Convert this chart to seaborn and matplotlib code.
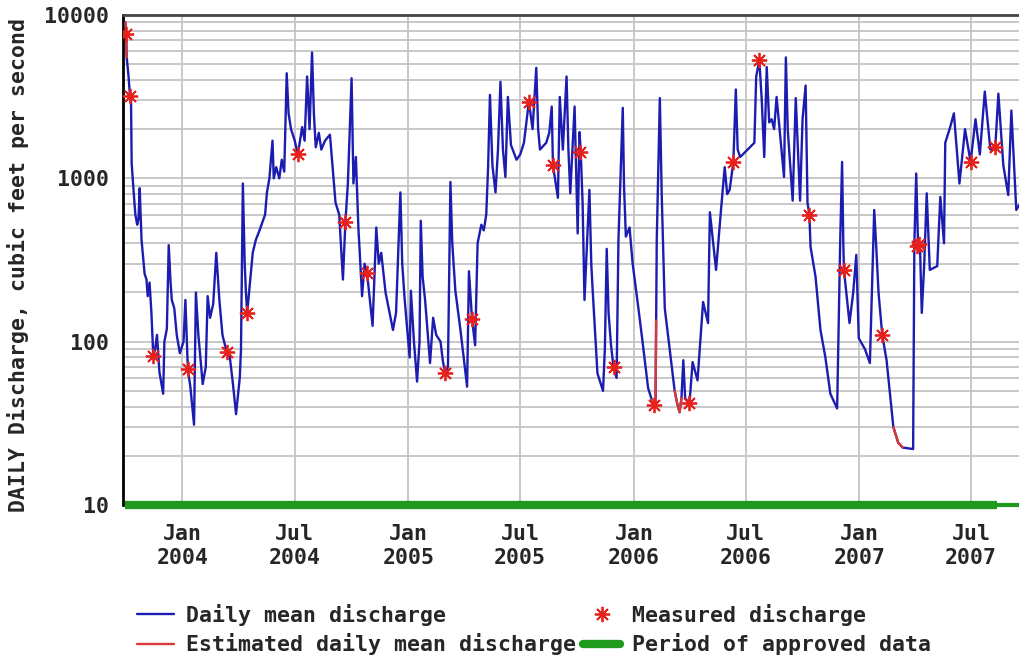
"""
Daily discharge hydrograph, Oct 2003 - Sep 2007 (USGS style)
"""

import numpy as np
import pandas as pd
import matplotlib
matplotlib.use("Agg")
import matplotlib.pyplot as plt
import matplotlib.dates as mdates
from matplotlib.lines import Line2D
from matplotlib.ticker import LogLocator, FixedLocator, FixedFormatter, NullFormatter
import seaborn as sns

# daily mean discharge (cfs) at turning points
flow_dates = [
    "2003-10-01", "2003-10-02", "2003-10-03", "2003-10-06", "2003-10-08", "2003-10-10", "2003-10-11",
    "2003-10-14", "2003-10-17", "2003-10-20", "2003-10-22", "2003-10-24", "2003-10-27", "2003-11-01",
    "2003-11-04", "2003-11-06", "2003-11-09", "2003-11-12", "2003-11-15", "2003-11-18", "2003-11-21",
    "2003-11-25", "2003-12-01", "2003-12-03", "2003-12-07", "2003-12-10", "2003-12-13", "2003-12-15",
    "2003-12-19", "2003-12-23", "2003-12-28", "2004-01-03", "2004-01-06", "2004-01-10", "2004-01-14",
    "2004-01-20", "2004-01-23", "2004-01-27", "2004-02-03", "2004-02-08", "2004-02-11", "2004-02-15",
    "2004-02-20", "2004-02-25", "2004-03-01", "2004-03-06", "2004-03-13", "2004-03-18", "2004-03-23",
    "2004-03-28", "2004-04-03", "2004-04-05", "2004-04-08", "2004-04-11", "2004-04-13", "2004-04-15",
    "2004-04-18", "2004-04-24", "2004-04-29", "2004-05-05", "2004-05-09", "2004-05-14", "2004-05-17",
    "2004-05-21", "2004-05-26", "2004-05-28", "2004-06-01", "2004-06-06", "2004-06-10", "2004-06-14",
    "2004-06-18", "2004-06-21", "2004-06-25", "2004-07-01", "2004-07-06", "2004-07-13", "2004-07-17",
    "2004-07-21", "2004-07-25", "2004-07-29", "2004-08-01", "2004-08-04", "2004-08-09", "2004-08-13",
    "2004-08-19", "2004-08-27", "2004-08-31", "2004-09-05", "2004-09-11", "2004-09-17", "2004-09-21",
    "2004-09-25", "2004-10-01", "2004-10-04", "2004-10-08", "2004-10-12", "2004-10-18", "2004-10-22",
    "2004-10-26", "2004-11-04", "2004-11-10", "2004-11-14", "2004-11-18", "2004-11-25", "2004-12-07",
    "2004-12-12", "2004-12-19", "2004-12-22", "2004-12-26", "2004-12-30", "2005-01-03", "2005-01-05",
    "2005-01-10", "2005-01-15", "2005-01-19", "2005-01-21", "2005-01-24", "2005-01-28", "2005-02-05",
    "2005-02-10", "2005-02-15", "2005-02-22", "2005-02-26", "2005-03-02", "2005-03-06", "2005-03-10",
    "2005-03-13", "2005-03-18", "2005-03-26", "2005-04-06", "2005-04-09", "2005-04-14", "2005-04-19",
    "2005-04-23", "2005-04-29", "2005-05-03", "2005-05-07", "2005-05-10", "2005-05-13", "2005-05-17",
    "2005-05-22", "2005-05-26", "2005-05-30", "2005-06-03", "2005-06-07", "2005-06-11", "2005-06-16",
    "2005-06-25", "2005-07-01", "2005-07-07", "2005-07-15", "2005-07-21", "2005-07-27", "2005-07-30",
    "2005-08-02", "2005-08-12", "2005-08-17", "2005-08-21", "2005-08-23", "2005-08-31", "2005-09-03",
    "2005-09-08", "2005-09-14", "2005-09-17", "2005-09-20", "2005-09-27", "2005-10-02", "2005-10-05",
    "2005-10-07", "2005-10-10", "2005-10-13", "2005-10-21", "2005-10-24", "2005-10-26", "2005-11-03",
    "2005-11-12", "2005-11-15", "2005-11-18", "2005-11-21", "2005-11-25", "2005-11-29", "2005-12-04",
    "2005-12-07", "2005-12-14", "2005-12-16", "2005-12-19", "2005-12-25", "2005-12-30", "2006-01-07",
    "2006-01-15", "2006-01-24", "2006-01-30", "2006-02-03", "2006-02-05", "2006-02-06", "2006-02-07",
    "2006-02-12", "2006-02-15", "2006-02-20", "2006-02-28", "2006-03-08", "2006-03-12", "2006-03-16",
    "2006-03-19", "2006-03-22", "2006-03-25", "2006-04-01", "2006-04-06", "2006-04-14", "2006-04-23",
    "2006-05-01", "2006-05-04", "2006-05-08", "2006-05-14", "2006-05-22", "2006-05-28", "2006-06-01",
    "2006-06-05", "2006-06-11", "2006-06-15", "2006-06-18", "2006-06-22", "2006-07-04", "2006-07-15",
    "2006-07-18", "2006-07-23", "2006-07-27", "2006-07-31", "2006-08-04", "2006-08-08", "2006-08-12",
    "2006-08-16", "2006-08-20", "2006-08-26", "2006-09-01", "2006-09-04", "2006-09-07", "2006-09-15",
    "2006-09-20", "2006-09-27", "2006-10-01", "2006-10-06", "2006-10-09", "2006-10-12", "2006-10-14",
    "2006-10-22", "2006-10-30", "2006-11-07", "2006-11-15", "2006-11-26", "2006-12-01", "2006-12-04",
    "2006-12-06", "2006-12-07", "2006-12-16", "2006-12-22", "2006-12-27", "2006-12-31", "2007-01-10",
    "2007-01-18", "2007-01-25", "2007-01-28", "2007-02-01", "2007-02-07", "2007-02-14", "2007-02-25",
    "2007-03-05", "2007-03-12", "2007-03-29", "2007-03-31", "2007-04-03", "2007-04-06", "2007-04-09",
    "2007-04-12", "2007-04-16", "2007-04-20", "2007-04-25", "2007-05-07", "2007-05-12", "2007-05-18",
    "2007-05-20", "2007-05-28", "2007-06-03", "2007-06-12", "2007-06-21", "2007-06-30", "2007-07-08",
    "2007-07-15", "2007-07-23", "2007-08-01", "2007-08-09", "2007-08-14", "2007-08-22", "2007-08-30",
    "2007-09-04", "2007-09-12", "2007-09-18",
]
flow_cfs = [
    9000, 7700, 5500, 4200, 3300, 3000, 1240,
    850, 600, 520, 560, 870, 420, 260,
    240, 190, 230, 150, 82, 90, 110,
    65, 48, 100, 120, 390, 230, 180,
    160, 110, 85, 100, 180, 68, 53,
    31, 200, 110, 55, 70, 190, 140,
    170, 350, 180, 110, 86, 80, 55,
    36, 60, 90, 930, 300, 200, 150,
    200, 350, 420, 480, 530, 600, 820,
    1000, 1700, 1000, 1170, 1000, 1300, 1100,
    4400, 2500, 2000, 1700, 1400, 2060, 1700,
    4200, 2000, 5900, 2500, 1550, 1900, 1500,
    1700, 1850, 1200, 710, 600, 240, 540,
    930, 4100, 930, 1350, 500, 190, 300,
    265, 125, 500, 300, 350, 200, 118,
    150, 820, 300, 180, 120, 80, 205,
    100, 57, 100, 550, 250, 180, 74,
    140, 110, 100, 75, 64, 70, 950,
    400, 205, 120, 53, 270, 137, 95,
    400, 520, 480, 600, 1170, 3240, 1200,
    820, 1500, 3900, 1500, 1020, 3150, 1600,
    1300, 1400, 1650, 2950, 2000, 4750, 2000,
    1500, 1650, 1900, 2750, 1200, 760, 3150,
    1500, 4200, 1500, 810, 2750, 460, 1920,
    1450, 700, 180, 850, 300, 215, 64,
    50, 90, 370, 150, 95, 70, 60,
    420, 2700, 900, 440, 500, 300, 175,
    100, 52, 44, 40, 40, 135, 420,
    3100, 800, 160, 90, 50, 42, 37,
    45, 77, 45, 42, 75, 58, 175,
    130, 620, 450, 275, 640, 1170, 800,
    850, 1260, 3500, 1500, 1350, 1500, 1650,
    4200, 5300, 3000, 1350, 4800, 2200, 2300,
    2000, 3150, 1800, 1020, 5500, 2000, 730,
    3100, 730, 2300, 3700, 710, 600, 380,
    250, 118, 80, 48, 39, 420, 1260,
    400, 275, 130, 200, 340, 105, 90,
    74, 640, 400, 200, 110, 77, 30,
    24, 22.5, 22, 400, 1070, 385, 395,
    150, 300, 810, 275, 290, 770, 400,
    1650, 2060, 2500, 930, 2000, 1260, 2300,
    1400, 3400, 1500, 1550, 3300, 1200, 790,
    2600, 640, 700,
]

# estimated daily mean discharge (red pieces of the trace)
est_dates = [
    "2003-10-01", "2003-10-02", "2003-10-03",
    "2006-01-30", "2006-02-03", "2006-02-05", "2006-02-06",
    "2006-03-08", "2006-03-12", "2006-03-16", "2006-03-19",
    "2007-02-25", "2007-03-05", "2007-03-12",
]
est_cfs = [9000, 7700, 5500, 44, 40, 40, 135, 50, 42, 37, 45, 30, 24, 22.5]
est_seg = [1, 1, 1, 2, 2, 2, 2, 3, 3, 3, 3, 4, 4, 4]

# field measurements
meas_dates = [
    "2003-10-02", "2003-10-08", "2003-11-15", "2004-01-10", "2004-03-13", "2004-04-14",
    "2004-07-06", "2004-09-21", "2004-10-26", "2005-03-02", "2005-04-14", "2005-07-15",
    "2005-08-23", "2005-10-05", "2005-11-29", "2006-02-03", "2006-04-01", "2006-06-11",
    "2006-07-23", "2006-10-12", "2006-12-07", "2007-02-07", "2007-04-04", "2007-04-08",
    "2007-06-30", "2007-08-09",
]
meas_cfs = [
    7700, 3200, 82, 68, 86, 150,
    1400, 540, 265, 64, 137, 2950,
    1200, 1450, 70, 41, 42, 1260,
    5300, 600, 275, 110, 385, 395,
    1260, 1550,
]

approved_period = ["2003-10-01", "2007-08-12"]
provisional_period = ["2007-08-12", "2007-09-18"]
x_range = ["2003-09-27", "2007-09-18"]

BLUE = "#1c1cb0"
RED = "#d83a3a"
STAR = "#e8201c"
GREEN = "#1f9a1f"
GRID = "#c4c4c4"

sns.set_style("white")
plt.rcParams["font.family"] = ["DejaVu Sans Mono"]
plt.rcParams["font.weight"] = "bold"
FS = 15.5

flow = pd.DataFrame({"date": pd.to_datetime(flow_dates), "cfs": flow_cfs})
est = pd.DataFrame({"date": pd.to_datetime(est_dates), "cfs": est_cfs, "seg": est_seg})
meas = pd.DataFrame({"date": pd.to_datetime(meas_dates), "cfs": meas_cfs})

fig = plt.figure(figsize=(10.2, 6.58), dpi=100)
ax = fig.add_axes([123 / 1020, 1 - 505 / 658, 1 - 123 / 1020, 490 / 658])

sns.lineplot(data=flow, x="date", y="cfs", estimator=None, sort=False,
             color=BLUE, lw=1.7, ax=ax, zorder=3)
for seg, grp in est.groupby("seg"):
    sns.lineplot(data=grp, x="date", y="cfs", estimator=None, sort=False,
                 color=RED, lw=1.7, ax=ax, zorder=4)
ax.plot(meas["date"], meas["cfs"], linestyle="none", marker=(8, 2, 0),
        ms=11, mew=1.3, color=STAR, zorder=5)

# approved-data bar along the bottom
ax.plot(pd.to_datetime(approved_period), [10, 10], color=GREEN, lw=6,
        solid_capstyle="butt", clip_on=False, zorder=6)
ax.plot(pd.to_datetime(provisional_period), [10, 10], color=GREEN, lw=3,
        solid_capstyle="butt", clip_on=False, zorder=6)

ax.set_yscale("log")
ax.set_ylim(10, 10000)
ax.set_xlim(pd.to_datetime(x_range))

ax.yaxis.set_major_locator(FixedLocator([10, 100, 1000, 10000]))
ax.yaxis.set_major_formatter(FixedFormatter(["10", "100", "1000", "10000"]))
ax.yaxis.set_minor_locator(LogLocator(base=10, subs=np.arange(2, 10)))
ax.yaxis.set_minor_formatter(NullFormatter())
ax.xaxis.set_major_locator(mdates.MonthLocator(bymonth=[1, 7]))
ax.xaxis.set_major_formatter(mdates.DateFormatter("%b\n%Y"))

ax.grid(which="major", axis="x", color=GRID, lw=1.3)
ax.grid(which="both", axis="y", color=GRID, lw=1.3)
ax.set_axisbelow(True)
ax.tick_params(axis="both", which="both", length=0, labelsize=FS)
ax.tick_params(axis="y", pad=10)
ax.tick_params(axis="x", pad=14)
for lab in ax.get_xticklabels():
    lab.set_linespacing(1.25)

ax.set_xlabel("")
ax.set_ylabel("")
for side in ["right", "bottom"]:
    ax.spines[side].set_visible(False)
ax.spines["left"].set_color("black")
ax.spines["left"].set_linewidth(2)
ax.spines["top"].set_color("#444444")
ax.spines["top"].set_linewidth(2)

fig.text(18 / 1020, 1 - 265 / 658, "DAILY Discharge, cubic feet per second",
         rotation=90, ha="center", va="center", fontsize=FS)

handles = [
    Line2D([], [], color=BLUE, lw=1.7),
    Line2D([], [], color=RED, lw=1.7),
    Line2D([], [], color=STAR, marker=(8, 2, 0), ms=11, mew=1.3, linestyle="none"),
    Line2D([], [], color=GREEN, lw=6),
]
labels = ["Daily mean discharge", "Estimated daily mean discharge",
          "Measured discharge", "Period of approved data"]
fig.legend(handles, labels, ncol=2, loc="upper left",
           bbox_to_anchor=(126 / 1020, 1 - 593 / 658), frameon=False,
           fontsize=FS, borderpad=0, handlelength=1.75, handletextpad=0.55,
           columnspacing=0.3, labelspacing=0.35)

fig.savefig("out.png", dpi=100)
